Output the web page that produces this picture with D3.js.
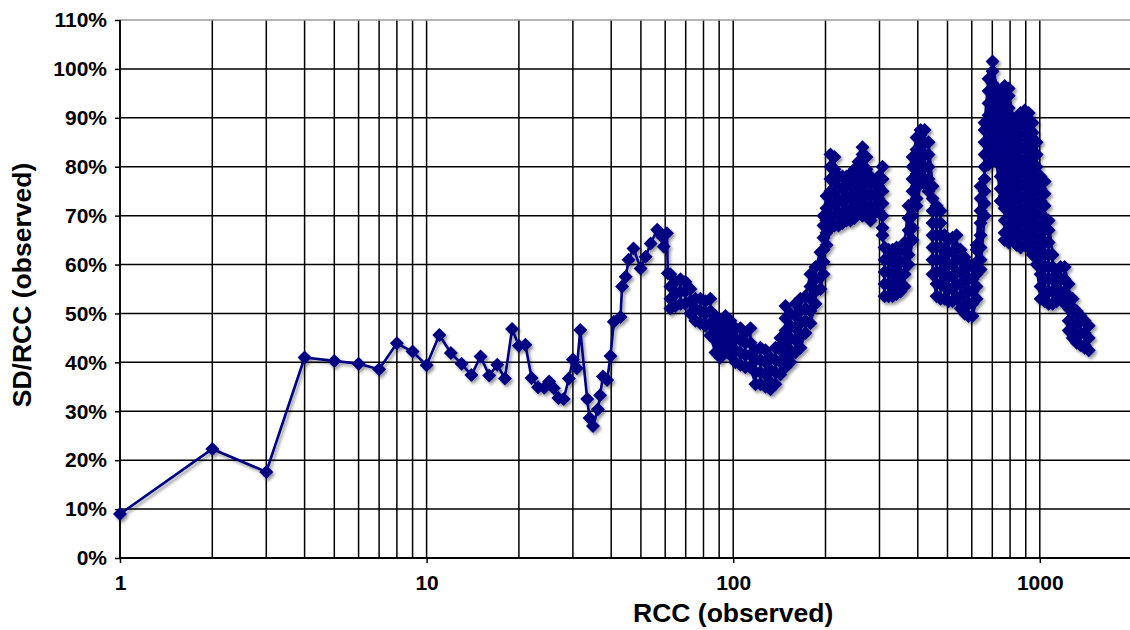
<!DOCTYPE html>
<html>
<head>
<meta charset="utf-8">
<script src="https://cdn.jsdelivr.net/npm/d3@7"></script>
<style>
  html, body { margin: 0; padding: 0; background: #fff; }
  svg { display: block; }
  text { font-family: "Liberation Sans", Arial, Helvetica, sans-serif; font-weight: bold; fill: #000; }
</style>
</head>
<body>
<svg id="chart" width="1130" height="630"></svg>
<script>
// ---- data: SD/RCC (%) against observed RCC ----
const sparseRcc = [1,2,3,4,5,6,7,8,9,10,11,12,13,14,15,16,17,18,19,20,21,22,23.1,24.2,25.1,26,26.9,28,29.1,30,
  30.9,31.7,33.4,34,34.9,36.2,36.8,37.6,38.8,39.8,40.8,42.9,43.4,44.6,45.6,47.3,49.9,51.8,53.8,56.5,58.6,59.3,60.8,61.2];
const sparseSd = [9,22.3,17.6,41,40.3,39.7,38.6,43.9,42.2,39.4,45.6,41.9,39.7,37.4,41.2,37.3,39.5,36.7,46.8,43.4,
  43.6,36.8,34.9,34.8,36.1,34.7,32.7,32.5,36.7,40.6,38.8,46.6,32.5,28.6,27,30.4,33.3,37.1,36.4,41.3,
  48.3,49.3,55.5,57.5,61,63.3,59.2,61.6,64.3,67.1,65.7,63.7,66.4,58.2];

// RCC 60-200: several observations share nearly the same RCC
const midBandRcc = [62.4,64.8,67.3,69.8,72.5,75.3,78.2,81.2,84.2,87.5,90.8,94.3,97.9,101.7,105.6,109.6,
  113.8,118.2,122.7,127.4,132.3,137.3,142.6,148.1,153.7,159.6,165.7,172,178.6,185.5,192.6,197];
const midBandSd = [
  [58,55.5,53,51],[51.5,54,56.5],[57,54.5,52],[52,54.5,56.5],[55,52.5,50],[48.5,51,53],
  [53,50.5,48],[47.5,50,52.5],[53,50.5,48,45.5],[42,44.5,47,49.5],[48.5,46,43.5,41],[42,44.5,47,49.5],
  [48.5,46,43.5,41.5],[40,42.5,45,47],[47,44.5,42,39.5],[39,41.5,44,46],[47,44,41.5,39],[35.5,38,40.5,42.5],
  [43,40.5,38,35.5],[35,37.5,40,42.5],[41,38.5,36,34.5],[35.5,38,40.5,43],[45,42.5,40,37.5],
  [39,41.5,44,46.5,49,51.5],[50,47.5,45,42.5,40],[42,44.5,47,49.5,52],[53,50.5,48,45.5,43],
  [46,48.5,51,53.5],[58,55.5,53,50.5,48],[52,54.5,57,59.5],[62.5,60,57.5,55],[58,60.5,63,65.5,68,70]
];

// RCC 200-1450
const highBandRcc = [201.5,207.6,213.9,220.5,227.2,234.1,241.3,248.6,256.2,264.1,272.1,280.4,289,297.8,
  306.9,311.6,321.1,330.9,341,351.4,362.2,373.2,384.6,396.4,408.3,420.8,433.6,446.9,460.5,474.6,489.1,
  504,519.4,535.3,551.5,568.3,585.7,603.6,622,640.9,660.5,680.7,701.4,722.8,745,767.7,791.1,815.3,
  840.1,865.7,892.2,919.4,947.5,976.5,1006,1037,1068.5,1101,1135,1169,1205,1242,1280,1319,1359,1401,1444];
const highBandSd = [
  [74,71.5,69,66.5,64],[67.5,70,72.5,75,77.5,80,82.5],[82,79.5,77,74.5,72,70,68],[68,70.5,73,75.5,78],
  [78,75.5,73,70.5,68.5],[69,71.5,74,76.5,78],[78.5,76,73.5,71,69],[69.5,72,74.5,77,79.5],
  [81,78.5,76,73.5,71],[70,72.5,75,77.5,80,82.5,84],[82,79.5,77,74.5,72,70],[69,71.5,74,76.5,78],
  [77,74.5,72,70.5],[71,73.5,76,78],[80,77.5,75,72.5,70,67.5,66],[63.5,61,58.5,56,53.5],
  [53.5,56,58.5,61,63],[63,60.5,58,55.5,53.5],[54,56.5,59,61.5,63.5],[63,60.5,58,56,54.5],
  [55.5,58,60.5,63,64.5],[72,69.5,67,64.5,62,60],[65,67.5,70,72.5,75,77.5,80,82],
  [86,83.5,81,78.5,76,73.5,72],[76.5,79,81.5,84,86.5,87.5],[87.5,85,82.5,80,77.5,76.5],
  [75,77.5,80,82.5,85],[76,73.5,71,68.5,66,63.5,61,58],[53.5,56,58.5,61,63.5,66,68.5,71,72],
  [71,68.5,66,63.5,61,58.5,56,53],[53,55.5,58,60.5,63,66],[65,62.5,60,57.5,55,52.5],
  [52.5,55,57.5,60,62.5,65.5],[66,63.5,61,58.5,56,53],[51,53.5,56,58.5,61,63],[61.5,59,56.5,54,51.5,50],
  [49.5,52,54.5,57,60],[59.5,57,54.5,52,49.5],[53,55.5,58,60.5,63,64],[76,73.5,71,68.5,66,63.5,61,59],
  [70,72.5,75,77.5,80,82.5,85,87.5,89],[98,95.5,93,90.5,88,85.5,83,80.5],
  [82,84.5,87,89.5,92,94.5,97,99.5,101.5],[96,93.5,91,88.5,86,83.5,81],
  [73,75.5,78,80.5,83,85.5,88,90.5,93,95],[96.5,94,91.5,89,86.5,84,81.5,79,76.5,74,71.5,69,66.5,65],
  [64.5,67,69.5,72,74.5,77,79.5,82,84.5,87,89.5,92,94.5,96],[90,87.5,85,82.5,80,77.5,75,72.5,70,67.5,65],
  [64,66.5,69,71.5,74,76.5,79,81.5,84,86.5,89],[91,88.5,86,83.5,81,78.5,76,73.5,71,68.5,66,63.5],
  [64,66.5,69,71.5,74,76.5,79,81.5,84,86.5,89,91.5],[91,88.5,86,83.5,81,78.5,76,73.5,71,68.5,66,63.5],
  [62,64.5,67,69.5,72,74.5,77,79.5,82,84.5,87,89],[85,82.5,80,77.5,75,72.5,70,67.5,65,62.5,60],
  [53,55.5,58,60.5,63,65.5,68,70.5,73,75.5,78],[77,74.5,72,69.5,67,64.5,62,59.5,57,54.5,52.5],
  [52,54.5,57,59.5,62,64.5,67,69],[62,59.5,57,54.5,52],[52.5,55,57.5,58],[59.5,57,54.5,53],
  [52,54.5,57,59.5],[56,53.5,51,48.5,46.5],[45,47.5,50,53],[50.5,48,45.5,44],[43.5,46,48.5,49.5],
  [48.5,46,43.5,43],[47.5,45,42.5]
];

const xTickValues = [1, 10, 100, 1000];
const yTickValues = [0, 10, 20, 30, 40, 50, 60, 70, 80, 90, 100, 110];
const xTitle = "RCC (observed)";
const yTitle = "SD/RCC (observed)";

// ---- assemble the series in RCC order ----
const points = [];
sparseRcc.forEach((r, i) => points.push([r, sparseSd[i]]));
midBandRcc.forEach((r, i) => midBandSd[i].forEach(s => points.push([r, s])));
highBandRcc.forEach((r, i) => highBandSd[i].forEach(s => points.push([r, s])));

// ---- layout: log axis runs 1..10000, the page shows up to ~2000 ----
const svg = d3.select("#chart");
const plotL = 120, plotT = 20, plotB = 558, plotR = 1346.4;
const x = d3.scaleLog().domain([1, 10000]).range([plotL, plotR]);
const y = d3.scaleLinear().domain([0, 110]).range([plotB, plotT]);

const defs = svg.append("defs");
const f = defs.append("filter").attr("id", "shadow")
  .attr("x", "-5%").attr("y", "-5%").attr("width", "110%").attr("height", "110%");
f.append("feDropShadow").attr("dx", 2).attr("dy", 2.5).attr("stdDeviation", 1.6)
  .attr("flood-color", "#000").attr("flood-opacity", 0.4);

// grid
const grid = svg.append("g");
grid.selectAll("line.v").data(x.ticks().filter(d => d < 10000)).join("line")
  .attr("x1", d => x(d)).attr("x2", d => x(d))
  .attr("y1", y(110)).attr("y2", y(0))
  .attr("stroke", "#000").attr("stroke-width", 1.5);
grid.selectAll("line.h").data(yTickValues).join("line")
  .attr("x1", plotL).attr("x2", plotR)
  .attr("y1", d => y(d)).attr("y2", d => y(d))
  .attr("stroke", d => d === 110 ? "#9a9a9a" : "#000")
  .attr("stroke-width", 1.5);

// axes
const yAxis = svg.append("g").attr("transform", `translate(${plotL},0)`)
  .call(d3.axisLeft(y).tickValues(yTickValues).tickSize(5).tickPadding(8).tickFormat(d => d + "%"));
const xAxis = svg.append("g").attr("transform", `translate(0,${plotB})`)
  .call(d3.axisBottom(x).tickValues(xTickValues).tickSize(5).tickPadding(12).tickFormat(d3.format("d")));
[yAxis, xAxis].forEach(a => {
  a.select(".domain").remove();
  a.selectAll(".tick line").attr("stroke", "#000").attr("stroke-width", 1.5);
  a.selectAll(".tick text").style("font-size", "21px").attr("fill", "#000");
});
svg.append("line").attr("x1", plotL).attr("x2", plotL).attr("y1", plotT).attr("y2", plotB)
  .attr("stroke", "#000").attr("stroke-width", 1.6);
svg.append("line").attr("x1", plotL).attr("x2", plotR).attr("y1", plotB).attr("y2", plotB)
  .attr("stroke", "#000").attr("stroke-width", 1.8);

// titles
svg.append("text").attr("transform", "translate(31,285) rotate(-90)")
  .attr("text-anchor", "middle").style("font-size", "26.5px").text(yTitle);
svg.append("text").attr("x", (plotL + plotR) / 2).attr("y", 622)
  .attr("text-anchor", "middle").style("font-size", "26.5px").text(xTitle);

// series
const navy = "#000080";
const series = svg.append("g").attr("filter", "url(#shadow)");
series.append("path").datum(points)
  .attr("d", d3.line().x(d => x(d[0])).y(d => y(d[1])))
  .attr("fill", "none").attr("stroke", navy).attr("stroke-width", 2.6).attr("stroke-linejoin", "round");
series.selectAll("path.m").data(points).join("path").attr("class", "m")
  .attr("transform", d => `translate(${x(d[0])},${y(d[1])})`)
  .attr("d", "M0,-7L7,0L0,7L-7,0Z")
  .attr("fill", navy);
</script>
</body>
</html>
